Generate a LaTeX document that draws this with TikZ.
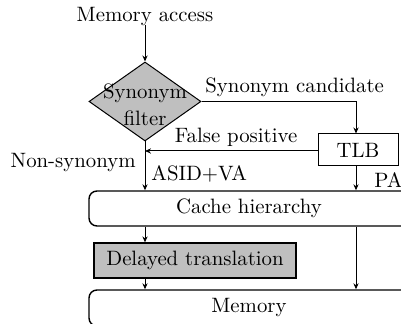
\documentclass[tikz,border=0pt]{standalone}
\usetikzlibrary{shapes.geometric,arrows.meta}
\begin{document}
\begin{tikzpicture}[x=0.5pt,y=-0.5pt,
  every node/.style={font=\fontsize{10.4}{12}\selectfont, inner sep=0pt},
  conn/.style={draw, line width=0.5pt, -{Stealth[length=3pt,width=2.6pt]}},
  filterbox/.style={diamond, draw, fill=gray!50, line width=0.5pt, minimum width=56pt, minimum height=39.5pt, aspect=1.4},
  plainbox/.style={rectangle, draw, line width=0.5pt, minimum width=40pt, minimum height=16pt},
  graybox/.style={rectangle, draw, fill=gray!50, line width=0.6pt, minimum width=101pt, minimum height=17.5pt},
  levelbox/.style={rectangle, rounded corners=4pt, draw, line width=0.7pt, minimum width=160pt},
  lbl/.style={inner sep=0pt}]
\useasboundingbox (0,0) rectangle (401,324);
\clip (0,0) rectangle (401,324);
\node[lbl] (ma) at (145,17) {Memory access};
\node[filterbox] (sf) at (145,101.5) {};
\node at (145,93) {Synonym};
\node at (145,118) {filter};
\node[plainbox] (tlb) at (358,150) {TLB};
\node[levelbox, minimum height=17.5pt] (cache) at (249,208.5) {Cache hierarchy};
\node[graybox] (dt) at (195,260.5) {Delayed translation};
\node[levelbox, minimum height=18pt] (mem) at (249,308) {Memory};
\coordinate (tc) at (356,101.5);
% arrows
\draw[conn] (ma.south) ++(0,-2) -- (sf.north);
\draw[draw, line width=0.5pt] (sf.east) -- (tc);
\draw[conn] (tc) -- (tlb.north -| tc);
\node[lbl, anchor=south west] at (205,97) {Synonym candidate};
\coordinate (fp) at (145,151);
\draw[conn] (tlb.west |- fp) -- (fp);
\node[lbl, anchor=south] at (236,147) {False positive};
\draw[conn] (sf.south) -- (cache.north -| sf.south);
\node[lbl, anchor=east] at (136,163) {Non-synonym};
\node[lbl, anchor=west] at (151,174) {ASID+VA};
\draw[conn] (tlb.south -| tc) -- (cache.north -| tc);
\node[lbl, anchor=west] at (374,180) {PA};
\draw[conn] (cache.south -| sf.south) -- (dt.north -| sf.south);
\draw[conn] (dt.south -| sf.south) -- (mem.north -| sf.south);
\draw[conn] (cache.south -| tc) -- (mem.north -| tc);
\end{tikzpicture}
\end{document}
